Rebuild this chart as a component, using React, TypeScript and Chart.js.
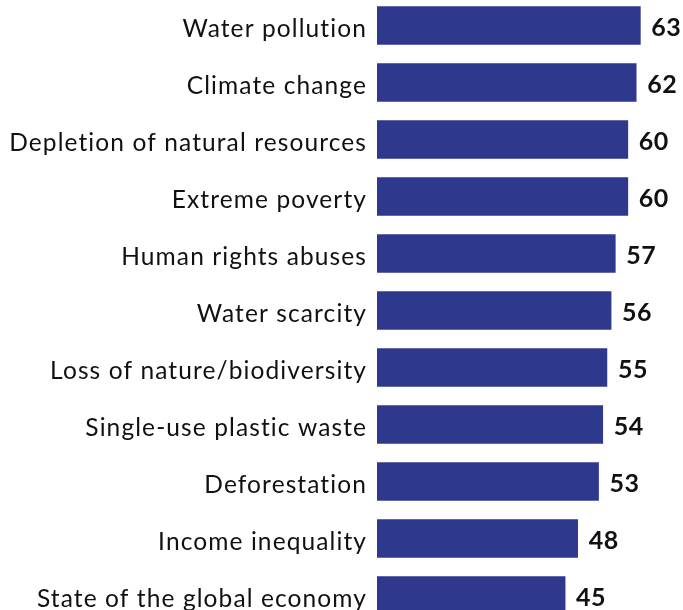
import React, { useEffect, useRef } from "react";
import { Chart, registerables } from "chart.js";

Chart.register(...registerables);

const categories = [
  "Water pollution",
  "Climate change",
  "Depletion of natural resources",
  "Extreme poverty",
  "Human rights abuses",
  "Water scarcity",
  "Loss of nature/biodiversity",
  "Single-use plastic waste",
  "Deforestation",
  "Income inequality",
  "State of the global economy",
];
const values = [63, 62, 60, 60, 57, 56, 55, 54, 53, 48, 45];

const BAR_COLOR = "#2E388C";
const TEXT_COLOR = "#111111";
const FONT = "Lato, 'Noto Sans', sans-serif";

const labelsPlugin = {
  id: "labelsPlugin",
  afterDatasetsDraw(chart: any) {
    const ctx = chart.ctx;
    const meta = chart.getDatasetMeta(0);
    const yScale = chart.scales.y;
    ctx.save();
    // category labels
    ctx.font = `24.5px ${FONT}`;
    (ctx as any).letterSpacing = "1.1px";
    ctx.fillStyle = TEXT_COLOR;
    ctx.textAlign = "right";
    ctx.textBaseline = "alphabetic";
    categories.forEach((c, i) => {
      const y = yScale.getPixelForValue(i);
      ctx.fillText(c, yScale.right - 10, y + 11.5);
    });
    // value labels
    ctx.font = `bold 25px ${FONT}`;
    (ctx as any).letterSpacing = "0.5px";
    ctx.textAlign = "left";
    meta.data.forEach((bar: any, i: number) => {
      ctx.fillText(String(values[i]), bar.x + 11, bar.y + 10);
    });
    ctx.restore();
  },
};

export default function App() {
  const ref = useRef<HTMLCanvasElement>(null);
  useEffect(() => {
    if (!ref.current) return;
    const chart = new Chart(ref.current, {
      type: "bar",
      data: {
        labels: categories,
        datasets: [
          {
            data: values,
            backgroundColor: BAR_COLOR,
            barThickness: 38,
          },
        ],
      },
      options: {
        indexAxis: "y",
        animation: false,
        responsive: false,
        maintainAspectRatio: false,
        layout: { padding: 0 },
        plugins: { legend: { display: false }, tooltip: { enabled: false } },
        scales: {
          x: {
            display: false,
            min: 0,
            max: 73.2,
          },
          y: {
            grid: { display: false },
            border: { display: false },
            ticks: { display: false },
            afterFit(scale: any) {
              scale.width = 377;
              scale.paddingTop = 0;
              scale.paddingBottom = 0;
            },
          },
        },
      },
      plugins: [labelsPlugin],
    });
    return () => chart.destroy();
  }, []);
  return (
    <div
      style={{
        position: "fixed",
        top: 0,
        left: 0,
        width: 683,
        height: 610,
        overflow: "hidden",
        background: "#ffffff",
      }}
    >
      <canvas
        ref={ref}
        width={683}
        height={627}
        style={{ position: "absolute", top: -3, left: 0, width: 683, height: 627 }}
      />
    </div>
  );
}
